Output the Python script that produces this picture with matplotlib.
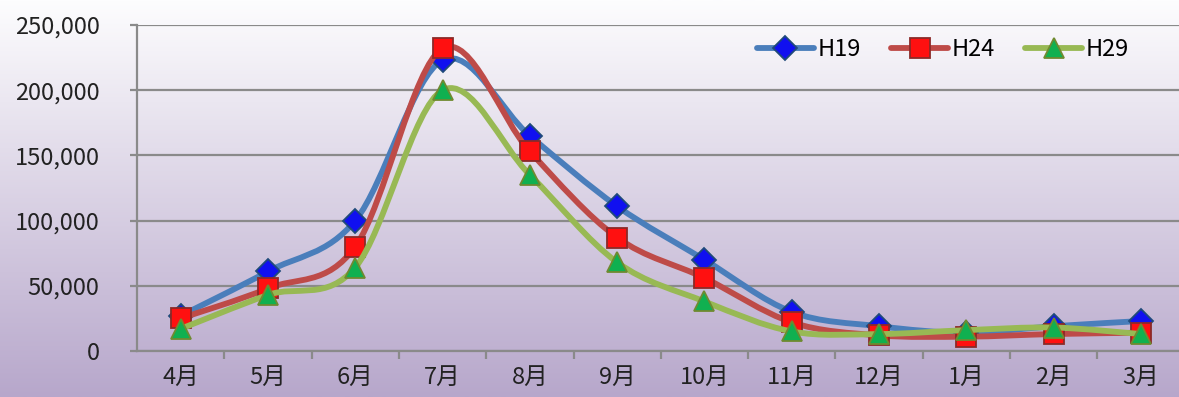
import matplotlib
matplotlib.use('Agg')
import matplotlib.pyplot as plt
import numpy as np
from matplotlib.path import Path
from matplotlib.patches import PathPatch
from matplotlib.lines import Line2D
from matplotlib.ticker import FuncFormatter, MultipleLocator

plt.rcParams['font.family'] = ['Noto Sans CJK JP', 'DejaVu Sans']

months = ['4月', '5月', '6月', '7月', '8月', '9月', '10月', '11月', '12月', '1月', '2月', '3月']
h19 = [27000, 61000, 100000, 223000, 165000, 111000, 70000, 30000, 19000, 14000, 19000, 23000]
h24 = [25000, 48000, 80000, 232000, 153000, 87000, 56000, 22000, 12000, 11000, 13000, 14000]
h29 = [17000, 43000, 64000, 200000, 135000, 68000, 38000, 15000, 13000, 16000, 18000, 13000]

series = [
    ('H19', h19, '#4a7ebb', 'D', 12, '#1010f0', '#1f4a7a'),
    ('H24', h24, '#be4b48', 's', 15, '#ff1010', '#8b2a28'),
    ('H29', h29, '#98b954', '^', 15, '#10b050', '#6f8a30'),
]

W, H = 1179, 397
fig = plt.figure(figsize=(W / 100, H / 100), dpi=100)

# gradient background
bg = fig.add_axes([0, 0, 1, 1], zorder=-10)
top = np.array([253, 253, 254]) / 255
bot = np.array([183, 167, 203]) / 255
t = np.linspace(0, 1, 256)[:, None]
grad = top[None, :] * (1 - t) + bot[None, :] * t
bg.imshow(grad[:, None, :], aspect='auto', extent=[0, 1, 0, 1])
bg.axis('off')

ax = fig.add_axes([137 / W, 1 - 351 / H, (W - 137) / W, (351 - 25) / H])
ax.patch.set_alpha(0)
x = np.arange(len(months))
ax.set_xlim(-0.5, -0.5 + (W - 137) / 87.3)
ax.set_ylim(0, 250000)


def smooth_path(xs, ys):
    # Excel-like smoothed line: Bezier segments through the data points
    pts = np.column_stack([xs, ys]).astype(float)
    verts = [pts[0]]
    codes = [Path.MOVETO]
    n = len(pts)
    for i in range(n - 1):
        p0 = pts[i - 1] if i > 0 else pts[i]
        p1 = pts[i]
        p2 = pts[i + 1]
        p3 = pts[i + 2] if i + 2 < n else pts[i + 1]
        c1 = p1 + (p2 - p0) / 6
        c2 = p2 - (p3 - p1) / 6
        verts += [c1, c2, p2]
        codes += [Path.CURVE4] * 3
    return Path(verts, codes)


for i, (name, vals, lc, mk, ms, fc, ec) in enumerate(series):
    patch = PathPatch(smooth_path(x, vals), facecolor='none', edgecolor=lc,
                      lw=4.2, capstyle='round', joinstyle='round', zorder=3 + 2 * i)
    ax.add_patch(patch)
    ax.plot(x, vals, linestyle='none', marker=mk, markersize=ms,
            markerfacecolor=fc, markeredgecolor=ec, markeredgewidth=1.3,
            zorder=4 + 2 * i, clip_on=False)

ax.yaxis.set_major_locator(MultipleLocator(50000))
ax.yaxis.set_major_formatter(FuncFormatter(lambda v, p: f'{int(v):,}'))
ax.grid(axis='y', color='#8a8a8a', lw=1.6, zorder=1)
ax.set_axisbelow(True)

ax.set_xticks(x)
ax.set_xticklabels(months)
ax.set_xticks(np.arange(0.5, len(months) - 0.5, 1), minor=True)
ax.tick_params(axis='x', which='major', length=0, pad=11, labelsize=17, colors='#222222')
ax.tick_params(axis='x', which='minor', length=6, width=1.6, color='#8a8a8a')
ax.tick_params(axis='y', length=5, width=1.6, color='#8a8a8a', pad=22,
               labelsize=17, labelcolor='#222222')

for s in ['top', 'right']:
    ax.spines[s].set_visible(False)
for s in ['left', 'bottom']:
    ax.spines[s].set_color('#8a8a8a')
    ax.spines[s].set_linewidth(1.6)

handles = [Line2D([], [], color=lc, lw=4.2, marker=mk, markersize=ms,
                  markerfacecolor=fc, markeredgecolor=ec, markeredgewidth=1.3,
                  solid_capstyle='round')
           for (name, vals, lc, mk, ms, fc, ec) in series]
fig.legend(handles, [s[0] for s in series], loc='center left',
           bbox_to_anchor=(757 / W, 1 - 50 / H), ncol=3, frameon=False,
           fontsize=17, handlelength=2.4, handletextpad=0.15,
           columnspacing=1.3, borderpad=0, borderaxespad=0)

fig.savefig('out.png', dpi=100)
